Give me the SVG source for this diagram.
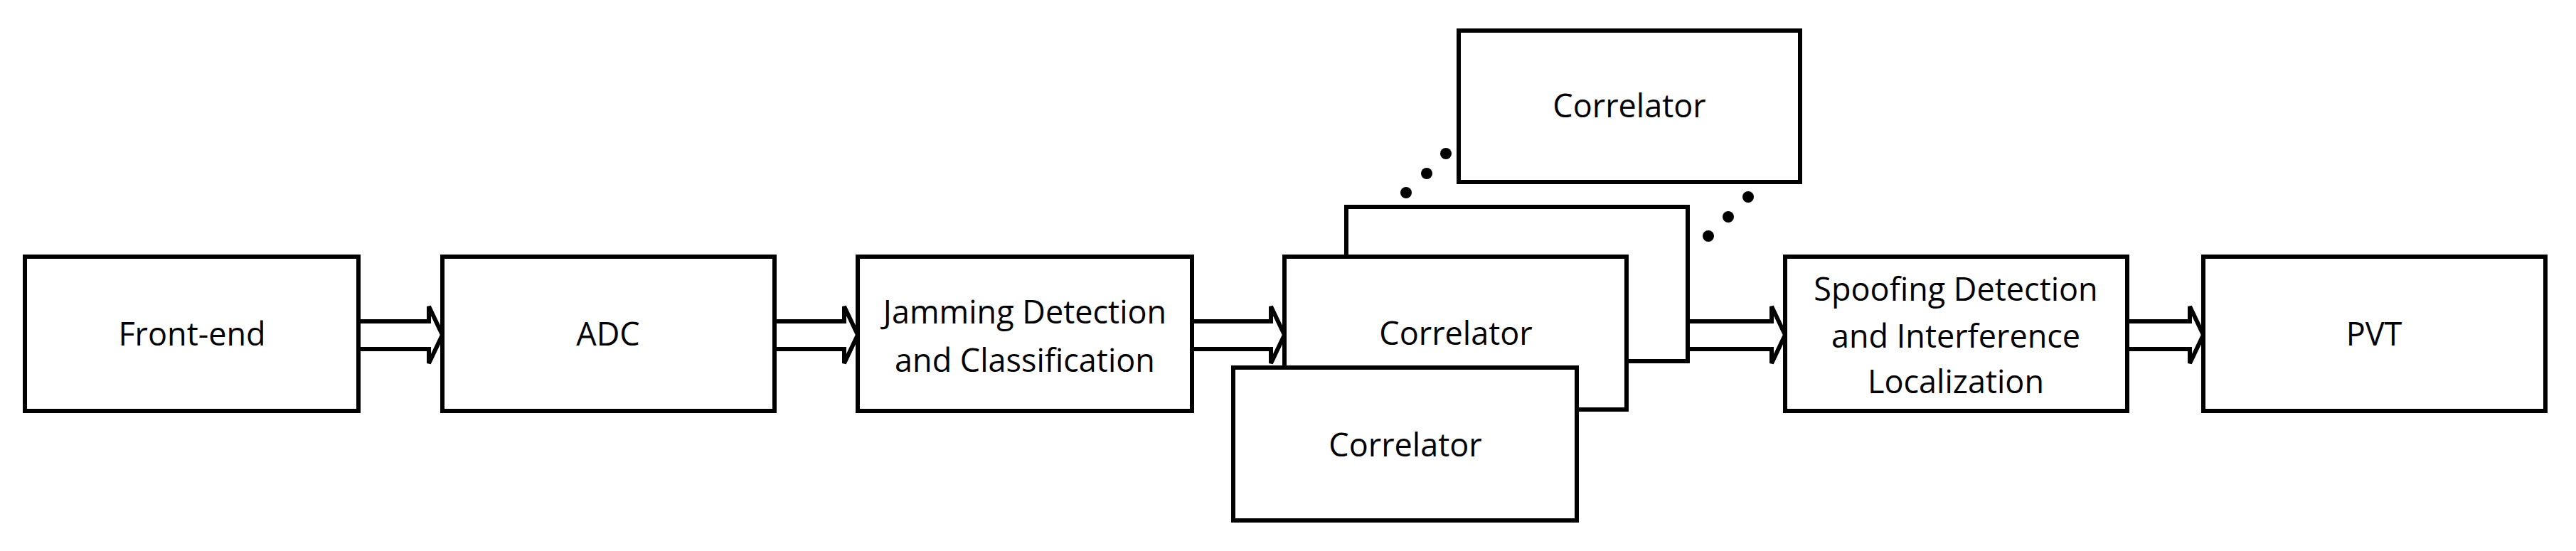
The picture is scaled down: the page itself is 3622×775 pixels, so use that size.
<svg xmlns="http://www.w3.org/2000/svg" width="3622" height="775" viewBox="0 0 3622 775">
<style>
.b{fill:#fff;stroke:#000;stroke-width:6}
.t{font-family:"Open Sans","Noto Sans",sans-serif;font-size:45px;fill:#000;text-anchor:middle}
.a{fill:#fff;stroke:#000;stroke-width:6;stroke-linejoin:miter}
.d{fill:#000}
</style>
<rect width="3622" height="775" fill="#fff"/>
<g id="connectors">
<path class="a" d="M504 452H603V431L622 471L603 511V491H504"/>
<path class="a" d="M1089 452H1187V431L1206 471L1187 511V491H1089"/>
<path class="a" d="M1676 452H1787V431L1806 471L1787 511V491H1676"/>
<path class="a" d="M2373 452H2491V431L2510 471L2491 511V491H2373"/>
<path class="a" d="M2991 452H3079V431L3098 471L3079 511V491H2991"/>
</g>
<g id="front-end"><rect class="b" x="35" y="361" width="469" height="217"/><text class="t" x="270" y="486">Front-end</text></g>
<g id="adc"><rect class="b" x="622" y="361" width="467" height="217"/><text class="t" x="855" y="486">ADC</text></g>
<g id="jamming"><rect class="b" x="1206" y="361" width="470" height="217"/><text class="t" x="1441" y="455">Jamming Detection</text><text class="t" x="1441" y="523">and Classification</text></g>
<g id="correlator-back"><rect class="b" x="1893" y="291" width="480" height="217"/></g>
<g id="correlator-top"><rect class="b" x="2051" y="43" width="480" height="213"/><text class="t" x="2291" y="165">Correlator</text></g>
<g id="correlator-mid"><rect class="b" x="1806" y="361" width="481" height="215"/><text class="t" x="2047" y="485">Correlator</text></g>
<g id="correlator-bottom"><rect class="b" x="1734" y="517" width="483" height="215"/><text class="t" x="1976" y="642">Correlator</text></g>
<g id="dots">
<circle class="d" cx="2033" cy="216" r="8"/><circle class="d" cx="2006" cy="244" r="8"/><circle class="d" cx="1977" cy="271" r="8"/>
<circle class="d" cx="2458" cy="277" r="8"/><circle class="d" cx="2430" cy="305" r="8"/><circle class="d" cx="2402" cy="332" r="8"/>
</g>
<g id="spoofing"><rect class="b" x="2510" y="361" width="481" height="217"/><text class="t" x="2750" y="423">Spoofing Detection</text><text class="t" x="2750" y="489">and Interference</text><text class="t" x="2750" y="553">Localization</text></g>
<g id="pvt"><rect class="b" x="3098" y="361" width="481" height="217"/><text class="t" x="3338" y="486">PVT</text></g>
</svg>
